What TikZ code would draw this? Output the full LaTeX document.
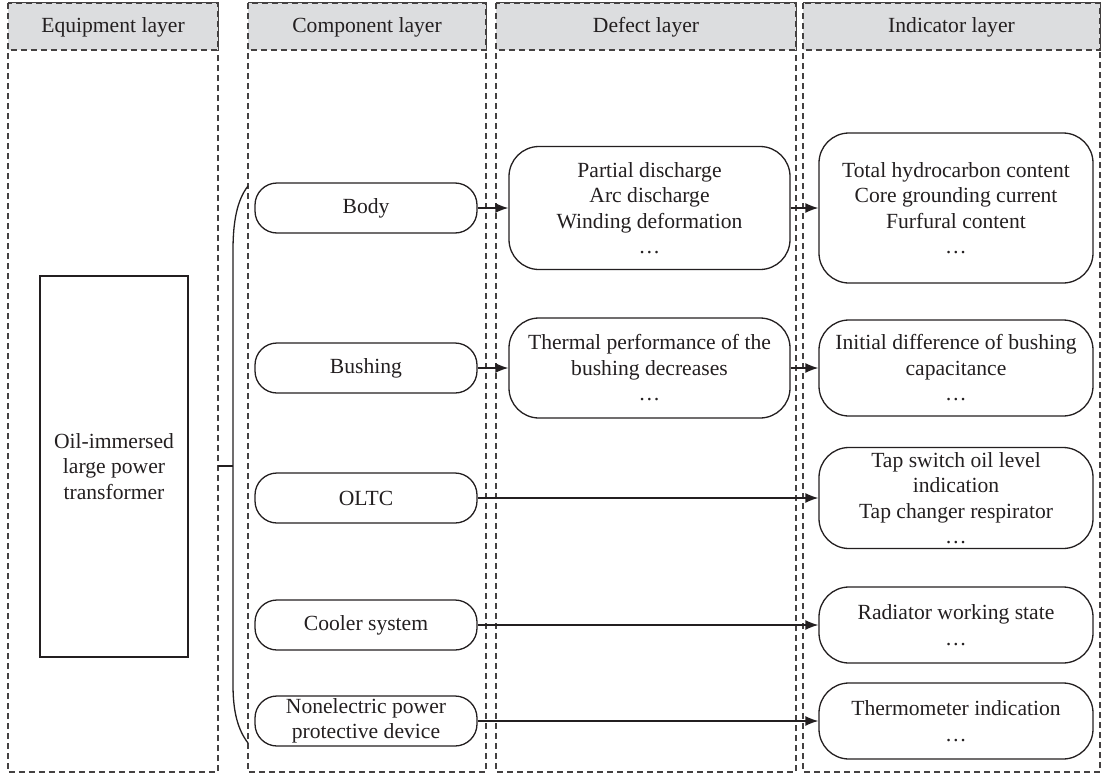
\documentclass[tikz,border=0pt]{standalone}
\usepackage{fontspec}
\setmainfont{Liberation Serif}
\usetikzlibrary{arrows.meta,positioning}
\definecolor{headgray}{RGB}{220,221,223}
\definecolor{inkgray}{RGB}{35,31,32}
\tikzset{
	layer/.style={draw=inkgray!85, dash pattern=on 3pt off 2pt, line width=0.6pt},
	head/.style={layer, fill=headgray},
	comp/.style={draw=inkgray, line width=0.65pt, rounded corners=11pt, minimum width=111pt, minimum height=25pt, inner sep=1pt, align=center},
	defect/.style={draw=inkgray, line width=0.65pt, rounded corners=15pt, minimum width=140.5pt, inner sep=1pt, align=center},
	ind/.style={draw=inkgray, line width=0.65pt, rounded corners=15pt, minimum width=137pt, inner sep=1pt, align=center},
	link/.style={draw=inkgray, line width=0.65pt, -{Latex[length=6.5pt,width=5pt]}},
}
\begin{document}
\begin{tikzpicture}[x=0.5pt, y=-0.5pt, font=\fontsize{10.8}{12.75}\selectfont, text=inkgray]
		\useasboundingbox (0,0) rectangle (1103,776);
		% layer columns with headers
		\foreach \l/\r/\name in {8/218/Equipment, 248/486/Component, 496/796/Defect, 803/1100/Indicator} {
			\draw[layer] (\l,3) rectangle (\r,772);
			\draw[head] (\l,3) rectangle (\r,50);
			\node (h\name) at ({(\l+\r)/2},27) {\name{} layer};
		}
		\node[draw=inkgray, line width=0.65pt, minimum width=74pt, minimum height=190.5pt, align=center] (xfmr) at (114,466.5) {Oil-immersed\\large power\\transformer};
		\node[comp] (body) at (366,208) {Body};
		\node[comp] (bushing) at (366,368) {Bushing};
		\node[comp] (oltc) at (366,498) {OLTC};
		\node[comp] (cooler) at (366,625) {Cooler system};
		\node[comp] (nonel) at (366,721) {Nonelectric power\\protective device};
		\node[defect, minimum height=61.5pt] (dbody) at (649.5,208) {Partial discharge\\Arc discharge\\Winding deformation\\…};
		\node[defect, minimum height=50pt] (dbushing) at (649.5,368) {Thermal performance of the\\bushing decreases\\…};
		\node[ind, minimum height=75pt] (ibody) at (956,208) {Total hydrocarbon content\\Core grounding current\\Furfural content\\…};
		\node[ind, minimum height=48pt] (ibushing) at (956,368) {Initial difference of bushing\\capacitance\\…};
		\node[ind, minimum height=50.5pt] (ioltc) at (956,498) {Tap switch oil level\\indication\\Tap changer respirator\\…};
		\node[ind, minimum height=38pt] (icooler) at (956,625) {Radiator working state\\…};
		\node[ind, minimum height=38pt] (inonel) at (956,721) {Thermometer indication\\…};
		% bracket
		\coordinate (eqr) at (218,466);
		\coordinate (brk) at (233,466);
		\draw[inkgray, line width=0.65pt] (eqr) -- (brk);
		\draw[inkgray, line width=0.65pt] (248,186) .. controls (237,200) and (233,222) .. (233,250) -- (233,685) .. controls (233,712) and (238,730) .. (248,743);
		% connectors
		\draw[link] (body) -- (dbody);
		\draw[link] (dbody) -- (ibody);
		\draw[link] (bushing) -- (dbushing);
		\draw[link] (dbushing) -- (ibushing);
		\draw[link] (oltc) -- (ioltc);
		\draw[link] (cooler) -- (icooler);
		\draw[link] (nonel) -- (inonel);
	\end{tikzpicture}
\end{document}
